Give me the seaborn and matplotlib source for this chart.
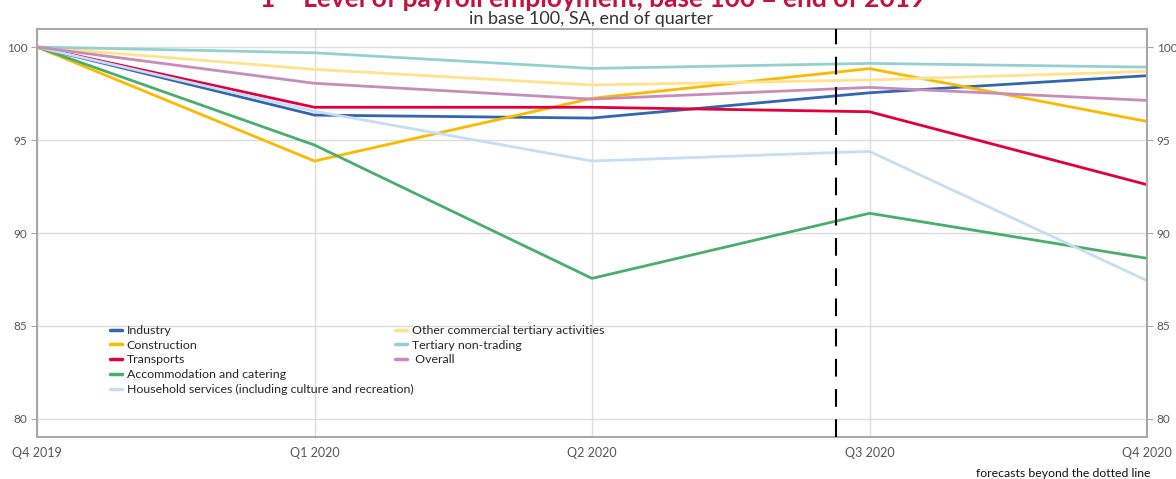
import matplotlib
matplotlib.use("Agg")
import matplotlib.pyplot as plt
from matplotlib.lines import Line2D
import seaborn as sns
import pandas as pd

# ---- data ----
quarters = ["Q4 2019", "Q1 2020", "Q2 2020", "Q3 2020", "Q4 2020"]
industry = [100, 96.34, 96.18, 97.54, 98.46]
construction = [100, 93.87, 97.24, 98.84, 96.00]
transports = [100, 96.76, 96.76, 96.52, 92.60]
accommodation = [100, 94.73, 87.56, 91.06, 88.64]
household = [100, 96.55, 93.87, 94.39, 87.44]
other_commercial = [100, 98.80, 97.96, 98.23, 98.69]
tertiary_non_trading = [100, 99.69, 98.85, 99.12, 98.92]
overall = [100, 98.05, 97.20, 97.83, 97.13]

series_names = [
    "Industry",
    "Construction",
    "Transports",
    "Accommodation and catering",
    "Household services (including culture and recreation)",
    "Other commercial tertiary activities",
    "Tertiary non-trading",
    "Overall",
]
series_values = [industry, construction, transports, accommodation, household,
                 other_commercial, tertiary_non_trading, overall]
colors = ["#3465B0", "#FBBA00", "#E3003A", "#47AE6D", "#C6DDF3",
          "#FFE38C", "#93D1D0", "#C98BBA"]
forecast_start = 2.88  # position of the dashed line (between Q2 and Q3 2020)

rows = []
for name, vals in zip(series_names, series_values):
    for i, v in enumerate(vals):
        rows.append({"series": name, "q": i, "value": v})
df = pd.DataFrame(rows)

sns.set_style("whitegrid")
plt.rcParams["font.family"] = ["Lato", "DejaVu Sans"]

W, H = 1176, 479
fig = plt.figure(figsize=(W / 100, H / 100), dpi=100)
ax = fig.add_axes([37 / W, 1 - 437 / H, (1147 - 37) / W, (437 - 29) / H])

palette = dict(zip(series_names, colors))
sns.lineplot(data=df, x="q", y="value", hue="series", hue_order=series_names,
             palette=palette, linewidth=2.0, legend=False, ax=ax)

ax.axvline(forecast_start, color="black", linewidth=1.5, dashes=(8.5, 6), zorder=5)

ax.set_xlim(0, 4)
ax.set_ylim(79.03, 100.97)
ax.set_xticks(range(len(quarters)))
ax.set_xticklabels(quarters)
ax.set_yticks([80, 85, 90, 95, 100])
ax.set_xlabel("")
ax.set_ylabel("")

ax.grid(True, color="#DCDCDC", linewidth=1.0)
for s in ax.spines.values():
    s.set_visible(True)
    s.set_color("#A8A8A8")
    s.set_linewidth(1.5)

ax.tick_params(axis="y", which="both", left=True, right=True, labelleft=True,
               labelright=True, length=4, color="#A8A8A8", labelsize=8.5,
               labelcolor="#555555", pad=3)
ax.tick_params(axis="x", length=0, labelsize=9, labelcolor="#555555", pad=7)

# legends (two blocks)
def handles(cols):
    return [Line2D([0], [0], color=c, linewidth=2.5) for c in cols]

leg_kw = dict(loc="upper left", bbox_transform=fig.transFigure, frameon=False,
              fontsize=8.9, borderpad=0, borderaxespad=0, handlelength=1.0,
              handletextpad=0.35, labelspacing=0.3)
leg1 = ax.legend(handles(colors[:5]), series_names[:5],
                 bbox_to_anchor=(110 / W, 1 - 325 / H), **leg_kw)
ax.add_artist(leg1)
ax.legend(handles(colors[5:]),
          [series_names[5], series_names[6], " Overall"],
          bbox_to_anchor=(395 / W, 1 - 325 / H), **leg_kw)

fig.text(593 / W, 1 - 7 / H, "1 – Level of payroll employment, base 100 = end of 2019",
         ha="center", va="baseline", fontsize=19, fontweight="bold",
         color="#C4123F")
fig.text(591 / W, 1 - 24 / H, "in base 100, SA, end of quarter",
         ha="center", va="baseline", fontsize=13, color="#333333")
fig.text(1150 / W, 1 - 477 / H, "forecasts beyond the dotted line",
         ha="right", va="baseline", fontsize=8.8, color="#111111")

fig.savefig("out.png", dpi=100)
